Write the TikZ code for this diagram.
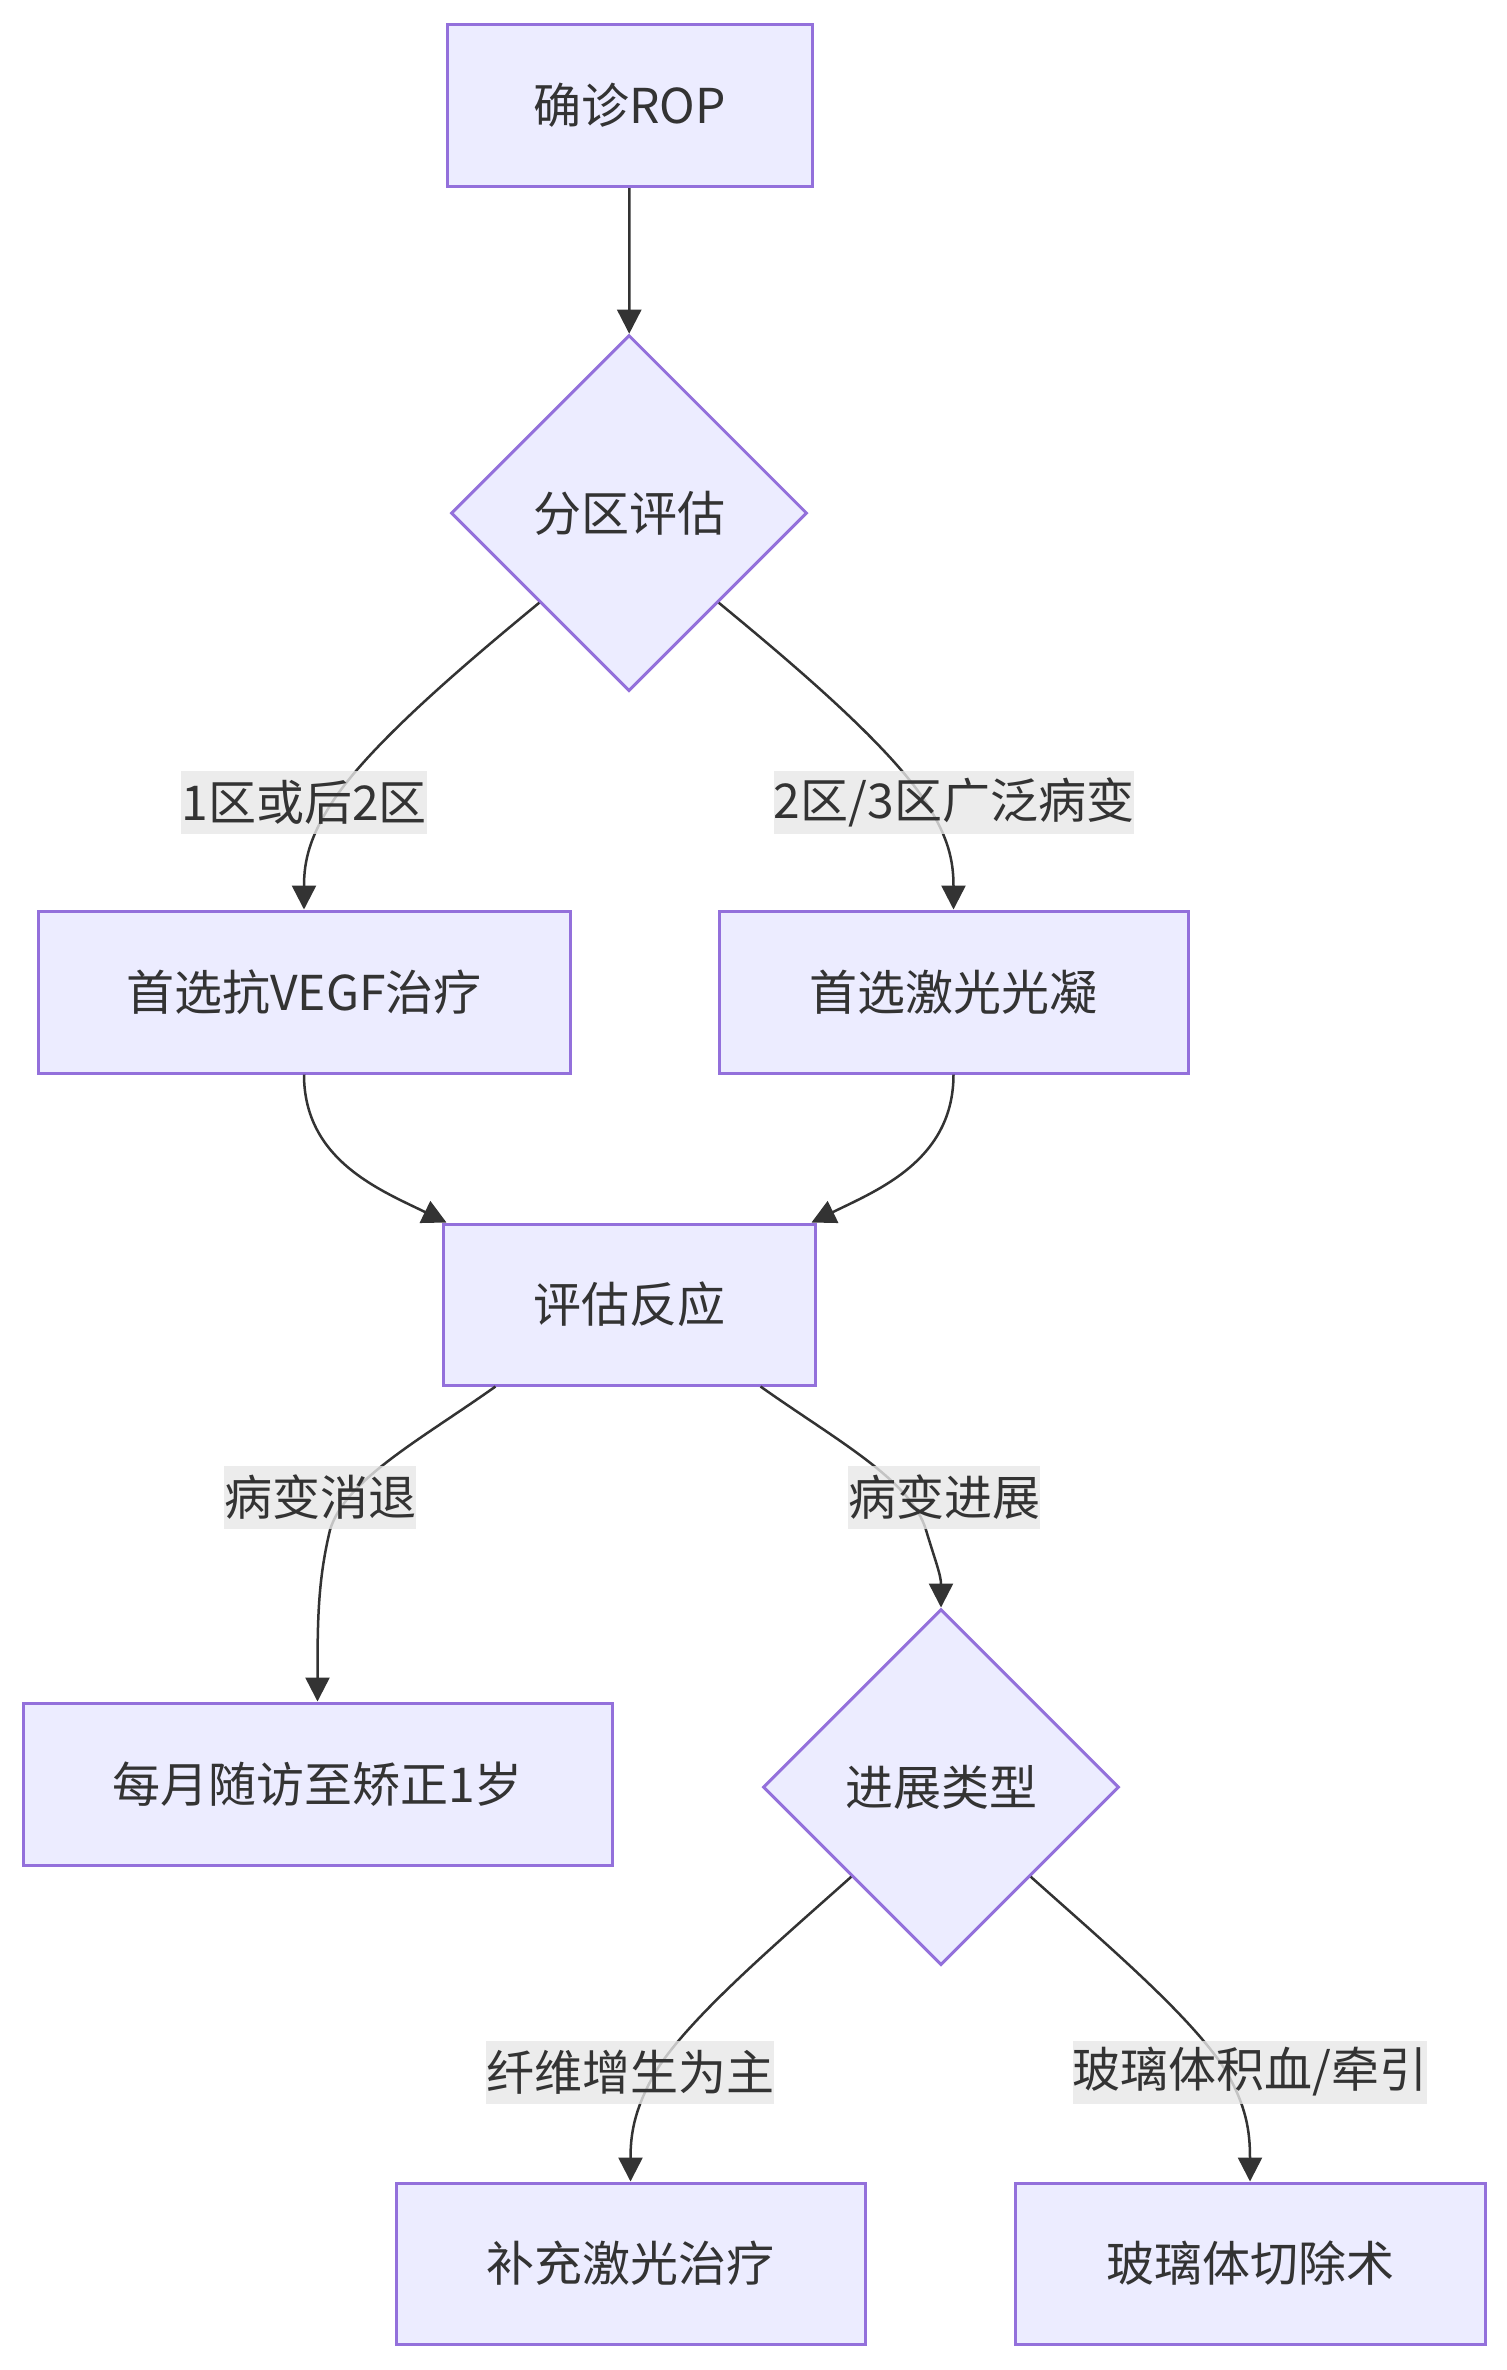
\documentclass[tikz,border=0pt]{standalone}
\usepackage{fontspec}
\setmainfont{Noto Sans CJK SC}
\usetikzlibrary{shapes.geometric,arrows.meta,calc}
\definecolor{nodefill}{HTML}{ECECFF}
\definecolor{nodeline}{HTML}{9370DB}
\definecolor{edgecol}{HTML}{333333}
\definecolor{lblbg}{HTML}{E8E8E8}
\begin{document}
\begin{tikzpicture}[x=1pt,y=-1pt,
  box/.style={draw=nodeline, fill=nodefill, line width=3pt, text=edgecol,
    font=\fontsize{48}{58}\selectfont, inner sep=0pt, minimum height=162pt},
  dec/.style={diamond, aspect=1, draw=nodeline, fill=nodefill, line width=3pt,
    text=edgecol, font=\fontsize{48}{58}\selectfont, inner sep=0pt,
    minimum width=356pt, minimum height=356pt},
  lbl/.style={fill=lblbg, fill opacity=0.8, text opacity=1, text=edgecol,
    font=\fontsize{48}{58}\selectfont, inner sep=0pt, minimum height=63pt},
  edge/.style={draw=edgecol, line width=2.5pt, -{Triangle[length=24pt,width=24pt]}}
]
\fill[white] (0,0) rectangle (1507,2370);
\useasboundingbox (0,0) rectangle (1507,2370);

% nodes
\node[box, minimum width=365pt] (n1) at (629.5,105.5) {确诊ROP};
\node[dec] (d1) at (629,513) {分区评估};
\node[box, minimum width=532pt] (n2) at (304,992) {首选抗VEGF治疗};
\node[box, minimum width=469pt] (n3) at (953.5,992) {首选激光光凝};
\node[box, minimum width=372pt, minimum height=161pt] (n4) at (629,1304.5) {评估反应};
\node[box, minimum width=589pt] (n5) at (317.5,1784) {每月随访至矫正1岁};
\node[dec] (d2) at (941,1787) {进展类型};
\node[box, minimum width=469pt, minimum height=161pt] (n6) at (630.5,2263.5) {补充激光治疗};
\node[box, minimum width=470pt, minimum height=161pt] (n7) at (1250,2263.5) {玻璃体切除术};

% edges
\draw[edge] (n1) -- (d1);
\draw[edge] (d1.-135) .. controls (460,668) and (370,745) .. (333,801)
  .. controls (310,836) and (304,860) .. (n2.north);
\draw[edge] (d1.-45) .. controls (798,668) and (888,745) .. (925,801)
  .. controls (948,836) and (953.5,860) .. (n3.north);
\draw[edge] (n2.south) .. controls (304,1160) and (380,1190) .. ($(n4.north west)+(5,0)$);
\draw[edge] (n3.south) .. controls (953.5,1160) and (878,1190) .. ($(n4.north east)+(-5,0)$);
\draw[edge] ($(n4.south west)+(54,0)$) .. controls (420,1440) and (345,1480) .. (330,1530)
  .. controls (318,1580) and (317.5,1620) .. (n5.north);
\draw[edge] ($(n4.south east)+(-56,0)$) .. controls (836,1440) and (911,1480) .. (926,1530)
  .. controls (935,1560) and (941,1575) .. (d2.north);
\draw[edge] (d2.-135) .. controls (776,1944) and (690,2017) .. (656,2071)
  .. controls (636,2106) and (630.5,2130) .. (n6.north);
\draw[edge] (d2.-45) .. controls (1106,1944) and (1192,2017) .. (1226,2071)
  .. controls (1246,2106) and (1250,2130) .. (n7.north);

% edge labels
\node[lbl] (l1) at (304,802) {1区或后2区};
\node[lbl] (l2) at (954,802) {2区/3区广泛病变};
\node[lbl] (l3) at (320,1497) {病变消退};
\node[lbl] (l4) at (944,1497) {病变进展};
\node[lbl] (l5) at (630,2072) {纤维增生为主};
\node[lbl] (l6) at (1250,2072) {玻璃体积血/牵引};
\end{tikzpicture}
\end{document}
